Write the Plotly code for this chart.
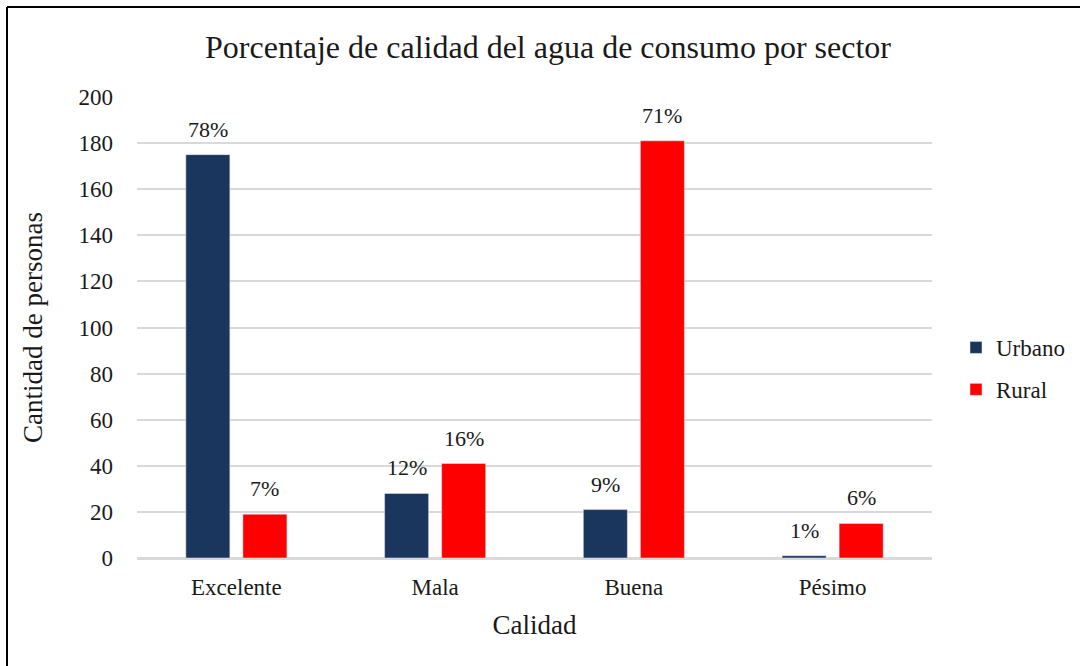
import plotly.graph_objects as go

categorias = ["Excelente", "Mala", "Buena", "Pésimo"]
urbano = [175, 28, 21, 1]
rural = [19, 41, 181, 15]
etiquetas_urbano = ["78%", "12%", "9%", "1%"]
etiquetas_rural = ["7%", "16%", "71%", "6%"]
y_ticks = [0, 20, 40, 60, 80, 100, 120, 140, 160, 180, 200]

FONT = "Liberation Serif, Times New Roman, serif"
TXT = "#1a1a1a"

fig = go.Figure()
fig.add_trace(go.Bar(name="Urbano", x=categorias, y=urbano, marker_color="#1b365d", legendgroup="urbano"))
fig.add_trace(go.Bar(name="Rural", x=categorias, y=rural, marker_color="#ff0000", legendgroup="rural"))

L, R, T, B = 137, 148, 97, 108
W, H = 1080, 666
pw, ph = W - L - R, H - T - B

def px_to_paper_x(px):
    return (px - L) / pw

def px_to_paper_y(py):
    return (H - B - py) / ph

# data labels above each bar, positioned via the category axis with a group offset
annotations = []
for serie, etiquetas, dx in ((urbano, etiquetas_urbano, -28.5), (rural, etiquetas_rural, 28.5)):
    for cat, val, lab in zip(categorias, serie, etiquetas):
        annotations.append(dict(x=cat, y=val, xref="x", yref="y", text=lab, showarrow=False,
                                xshift=dx, yshift=11, yanchor="bottom",
                                font=dict(family=FONT, size=22, color=TXT)))

fig.update_layout(
    width=W, height=H,
    margin=dict(l=L, r=R, t=T, b=B, autoexpand=False),
    paper_bgcolor="white", plot_bgcolor="white",
    barmode="group", bargap=0.426, bargroupgap=0.228,
    font=dict(family=FONT, color=TXT),
    title=dict(text="Porcentaje de calidad del agua de consumo por sector",
               font=dict(family=FONT, size=32, color=TXT),
               x=548 / W, xanchor="center", y=1 - 47 / H, yanchor="middle"),
    showlegend=True,
    legend=dict(x=px_to_paper_x(956), y=px_to_paper_y(326), xanchor="left", yanchor="top",
                font=dict(family=FONT, size=23, color=TXT),
                tracegroupgap=9, itemwidth=30, bgcolor="rgba(0,0,0,0)"),
    xaxis=dict(title=dict(text="Calidad", font=dict(family=FONT, size=27, color=TXT), standoff=16),
               tickfont=dict(family=FONT, size=23, color=TXT),
               showline=True, linecolor="#d9d9d9", linewidth=1.5, ticks="",
               ticklabelstandoff=8),
    yaxis=dict(title=dict(text="Cantidad de personas", font=dict(family=FONT, size=27, color=TXT), standoff=28),
               range=[0, 200], tickvals=y_ticks,
               tickfont=dict(family=FONT, size=23, color=TXT),
               showgrid=True, gridcolor="#d9d9d9", gridwidth=1.5,
               zeroline=True, zerolinecolor="#d9d9d9", zerolinewidth=1.5,
               ticks="", ticklabelstandoff=23),
    annotations=annotations,
    shapes=[
        dict(type="line", xref="paper", yref="paper",
             x0=px_to_paper_x(7), x1=px_to_paper_x(1085), y0=px_to_paper_y(7), y1=px_to_paper_y(7),
             line=dict(color="black", width=2)),
        dict(type="line", xref="paper", yref="paper",
             x0=px_to_paper_x(7), x1=px_to_paper_x(7), y0=px_to_paper_y(7), y1=px_to_paper_y(670),
             line=dict(color="black", width=2)),
    ],
)

fig.write_html("out.html", config={"displayModeBar": False},
               post_script="document.body.style.margin='0';document.body.style.overflow='hidden';")
